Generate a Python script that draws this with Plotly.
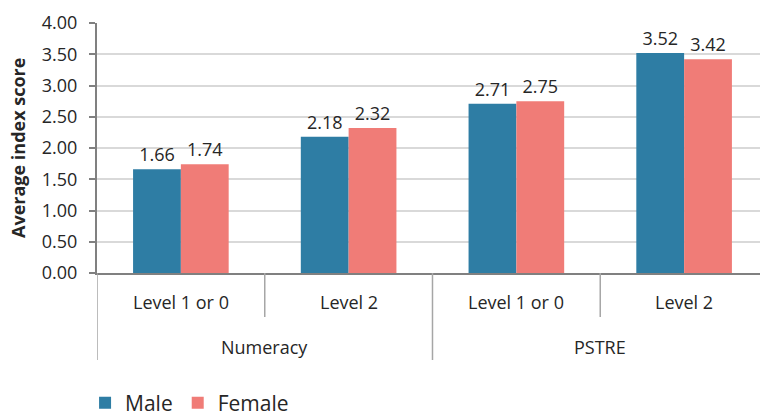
import plotly.graph_objects as go

# Data
groups = ["Numeracy", "PSTRE"]
levels = ["Level 1 or 0", "Level 2", "Level 1 or 0", "Level 2"]
group_of_level = [0, 0, 1, 1]
male = [1.66, 2.18, 2.71, 3.52]
female = [1.74, 2.32, 2.75, 3.42]

MALE_COLOR = "#2E7DA4"
FEMALE_COLOR = "#F07C77"
FONT = "Open Sans"
TEXT_COLOR = "#262626"
FS = 18

x = list(range(len(levels)))

fig = go.Figure()
fig.add_trace(go.Bar(
    x=x, y=male, name="Male", marker=dict(color=MALE_COLOR, line_width=0),
    text=[f"{v:.2f}" for v in male], textposition="outside",
    textfont=dict(size=FS, color=TEXT_COLOR, family=FONT), cliponaxis=False,
))
fig.add_trace(go.Bar(
    x=x, y=female, name="Female", marker=dict(color=FEMALE_COLOR, line_width=0),
    text=[f"{v:.2f}" for v in female], textposition="outside",
    textfont=dict(size=FS, color=TEXT_COLOR, family=FONT), cliponaxis=False,
))

plot_h = 250.0  # plot area height in px

def py(px_below):
    # paper y for a pixel offset below the x-axis line
    return -px_below / plot_h

shapes = []
annotations = []

# level labels and separators
for i, lab in enumerate(levels):
    annotations.append(dict(
        x=i, y=py(29), xref="x", yref="paper", text=lab, showarrow=False,
        font=dict(size=FS, color=TEXT_COLOR, family=FONT), yanchor="middle",
    ))
for b in [-0.5, 0.5, 1.5, 2.5]:
    is_group_edge = (b + 0.5) % 2 == 0
    shapes.append(dict(
        type="line", xref="x", yref="paper", x0=b, x1=b, y0=0,
        y1=py(87 if is_group_edge else 44),
        line=dict(color="#A6A6A6", width=1.5),
    ))

# group labels
for g, name in enumerate(groups):
    idx = [i for i, gg in enumerate(group_of_level) if gg == g]
    annotations.append(dict(
        x=sum(idx) / len(idx), y=py(74), xref="x", yref="paper", text=name,
        showarrow=False, font=dict(size=FS, color=TEXT_COLOR, family=FONT),
        yanchor="middle",
    ))

# y-axis title
annotations.append(dict(
    x=-79 / 663, y=0.5, xref="paper", yref="paper", text="<b>Average index score</b>",
    textangle=-90, showarrow=False, xanchor="center", yanchor="middle",
    font=dict(size=FS, color=TEXT_COLOR, family=FONT),
))

fig.update_layout(
    width=760, height=416,
    margin=dict(l=97, r=0, t=23, b=143),
    paper_bgcolor="white", plot_bgcolor="white",
    barmode="group", bargap=0.43, bargroupgap=0,
    font=dict(family=FONT, color=TEXT_COLOR),
    shapes=shapes, annotations=annotations,
    showlegend=True,
    legend=dict(
        orientation="h", x=-0.018, xanchor="left",
        yref="container", y=1 - 403 / 416, yanchor="middle",
        font=dict(size=21, color=TEXT_COLOR, family=FONT),
        itemwidth=30, tracegroupgap=0, bgcolor="rgba(0,0,0,0)",
    ),
    xaxis=dict(
        range=[-0.5, 3.5 - 8 / 168], showticklabels=False, ticks="",
        showgrid=False, zeroline=False, showline=True,
        linecolor="#808080", linewidth=2, fixedrange=True,
    ),
    yaxis=dict(
        range=[0, 4], dtick=0.5, tick0=0, tickformat=".2f",
        ticks="outside", ticklen=6, tickcolor="#808080", tickwidth=1.5,
        showgrid=True, gridcolor="#D9D9D9", gridwidth=1.5,
        zeroline=False, showline=True, linecolor="#808080", linewidth=2,
        tickfont=dict(size=FS, color=TEXT_COLOR, family=FONT),
        ticklabelstandoff=8,
    ),
)

fig.write_html("out.html")
